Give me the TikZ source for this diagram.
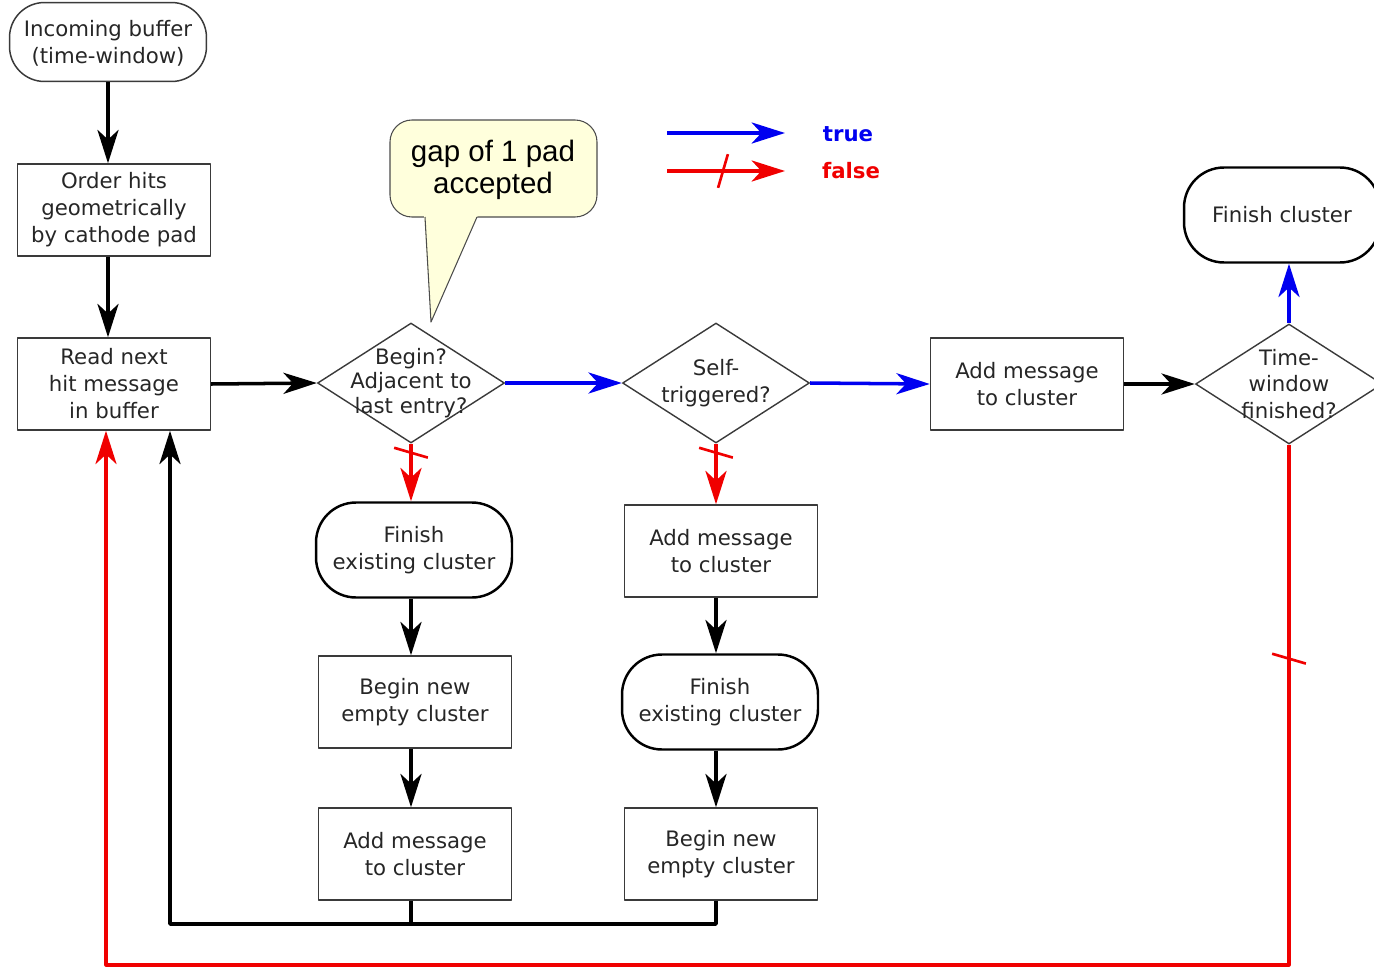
\documentclass[tikz,border=0pt]{standalone}
\usepackage{fontspec}
\setmainfont{DejaVu Sans}
\newfontfamily\notefont{Liberation Sans}
\usetikzlibrary{arrows.meta,shapes.geometric,decorations.markings}

\definecolor{boxline}{HTML}{3A3A3A}
\definecolor{notefill}{HTML}{FFFFDC}
\definecolor{truecol}{HTML}{0000F0}
\definecolor{falsecol}{HTML}{F00000}

\tikzset{
  proc/.style={draw=boxline,line width=0.85pt,minimum width=3.86cm,minimum height=1.84cm,
    inner sep=0pt,align=center,text=black!85,font=\fontsize{12.1}{15.4}\selectfont},
  term/.style={proc,rounded corners=0.7cm,minimum width=3.94cm,minimum height=1.58cm},
  finish/.style={proc,draw=black,line width=1.4pt,rounded corners=0.8cm,
    minimum width=3.92cm,minimum height=1.9cm},
  decide/.style={diamond,draw=boxline,line width=0.8pt,minimum width=3.74cm,
    minimum height=2.4cm,inner sep=-16pt,align=center,text=black!85,
    font=\fontsize{12.1}{13.9}\selectfont},
  flow/.style={line width=2pt,-{Stealth[length=19pt,width=12pt,inset=5.5pt]}},
  trueflow/.style={flow,draw=truecol},
  falseflow/.style={flow,draw=falsecol},
  falsetick/.style={postaction={decorate,decoration={markings,
    mark=at position #1 with {\draw[falsecol,line width=1.5pt,-] (-2.8pt,-9.6pt) -- (2.8pt,9.6pt);}}}},
}

\begin{document}
\begin{tikzpicture}[x=0.02cm,y=-0.02cm,line join=round]
\path[use as bounding box] (0,0) rectangle (1374,967);

% nodes
\node[term,text depth=-2pt] (inbuf) at (108,42) {Incoming buffer\\(time-window)};
\node[proc] (order) at (114,210) {Order hits\\geometrically\\by cathode pad};
\node[proc] (read) at (114,384) {Read next\\hit message\\in buffer};
\node[decide] (adj) at (411,383) {Begin?\\Adjacent to\\last entry?};
\node[decide,font=\fontsize{12.1}{15.2}\selectfont] (self) at (716,383) {Self-\\triggered?};
\node[proc] (addmsg) at (1027,384) {Add message\\to cluster};
\node[decide,font=\fontsize{12.1}{15.2}\selectfont] (twin) at (1289,384) {Time-\\window\\finished?};
\node[finish] (fincl) at (1282,215) {Finish cluster};
\node[finish] (finA) at (414,550) {Finish\\existing cluster};
\node[proc] (newA) at (415,702) {Begin new\\empty cluster};
\node[proc] (addA) at (415,854) {Add message\\to cluster};
\node[proc] (addB) at (721,551) {Add message\\to cluster};
\node[finish] (finB) at (720,702) {Finish\\existing cluster};
\node[proc] (newB) at (721,854) {Begin new\\empty cluster};

% callout
\coordinate (gaptip) at (431,322);
\draw[draw=black!70,fill=notefill,line width=0.6pt,rounded corners=0.44cm] (390,120) rectangle (597,217);
\fill[notefill] (424,215) -- (gaptip) -- (478,215) -- cycle;
\draw[black!70,line width=0.6pt] (425,217) -- (gaptip) -- (477,217);
\node[font=\notefont\fontsize{16.8}{18.4}\selectfont,align=center] (gap) at (493,170) {gap of 1 pad\\accepted};

% legend
\coordinate (trueA) at (667,133);
\coordinate (trueB) at (785,133);
\coordinate (falseA) at (667,171);
\coordinate (falseB) at (785,171);
\node[font=\bfseries\fontsize{12.1}{14}\selectfont,text=truecol] (truelbl) at (848,134) {true};
\node[font=\bfseries\fontsize{12.1}{14}\selectfont,text=falsecol] (falselbl) at (851,171) {false};
\draw[trueflow] (trueA) -- (trueB);
\draw[falseflow,falsetick=1.12cm] (falseA) -- (falseB);

% main line
\draw[flow] (inbuf.south) -- (inbuf.south |- order.north);
\draw[flow] (order.south -| inbuf.south) -- (read.north -| inbuf.south);
\draw[flow] (read.east) -- (adj.west);
\draw[trueflow] (adj.east) -- (self.west);
\draw[trueflow] (self.east) -- (addmsg.west);
\draw[flow] (addmsg.east) -- (twin.west);
\draw[trueflow] (twin.north) -- (fincl.south -| twin.north);

% columns
\draw[falseflow,falsetick=0.18cm] (adj.south) -- (finA.north -| adj.south);
\draw[flow] (finA.south -| adj.south) -- (newA.north -| adj.south);
\draw[flow] (newA.south -| adj.south) -- (addA.north -| adj.south);
\draw[falseflow,falsetick=0.18cm] (self.south) -- (addB.north -| self.south);
\draw[flow] (addB.south -| self.south) -- (finB.north -| self.south);
\draw[flow] (finB.south -| self.south) -- (newB.north -| self.south);

% loops back
\coordinate (backA) at (170,924);
\coordinate (backB) at (106,965);
\draw[flow] (newB.south -| self.south) |- (backA) -- (backA |- read.south);
\draw[line width=2pt] (addA.south -| adj.south) -- (adj.south |- backA);
\draw[falseflow,line width=1.8pt,falsetick=4.28cm] (twin.south) |- (backB) -- (backB |- read.south);
\end{tikzpicture}
\end{document}
